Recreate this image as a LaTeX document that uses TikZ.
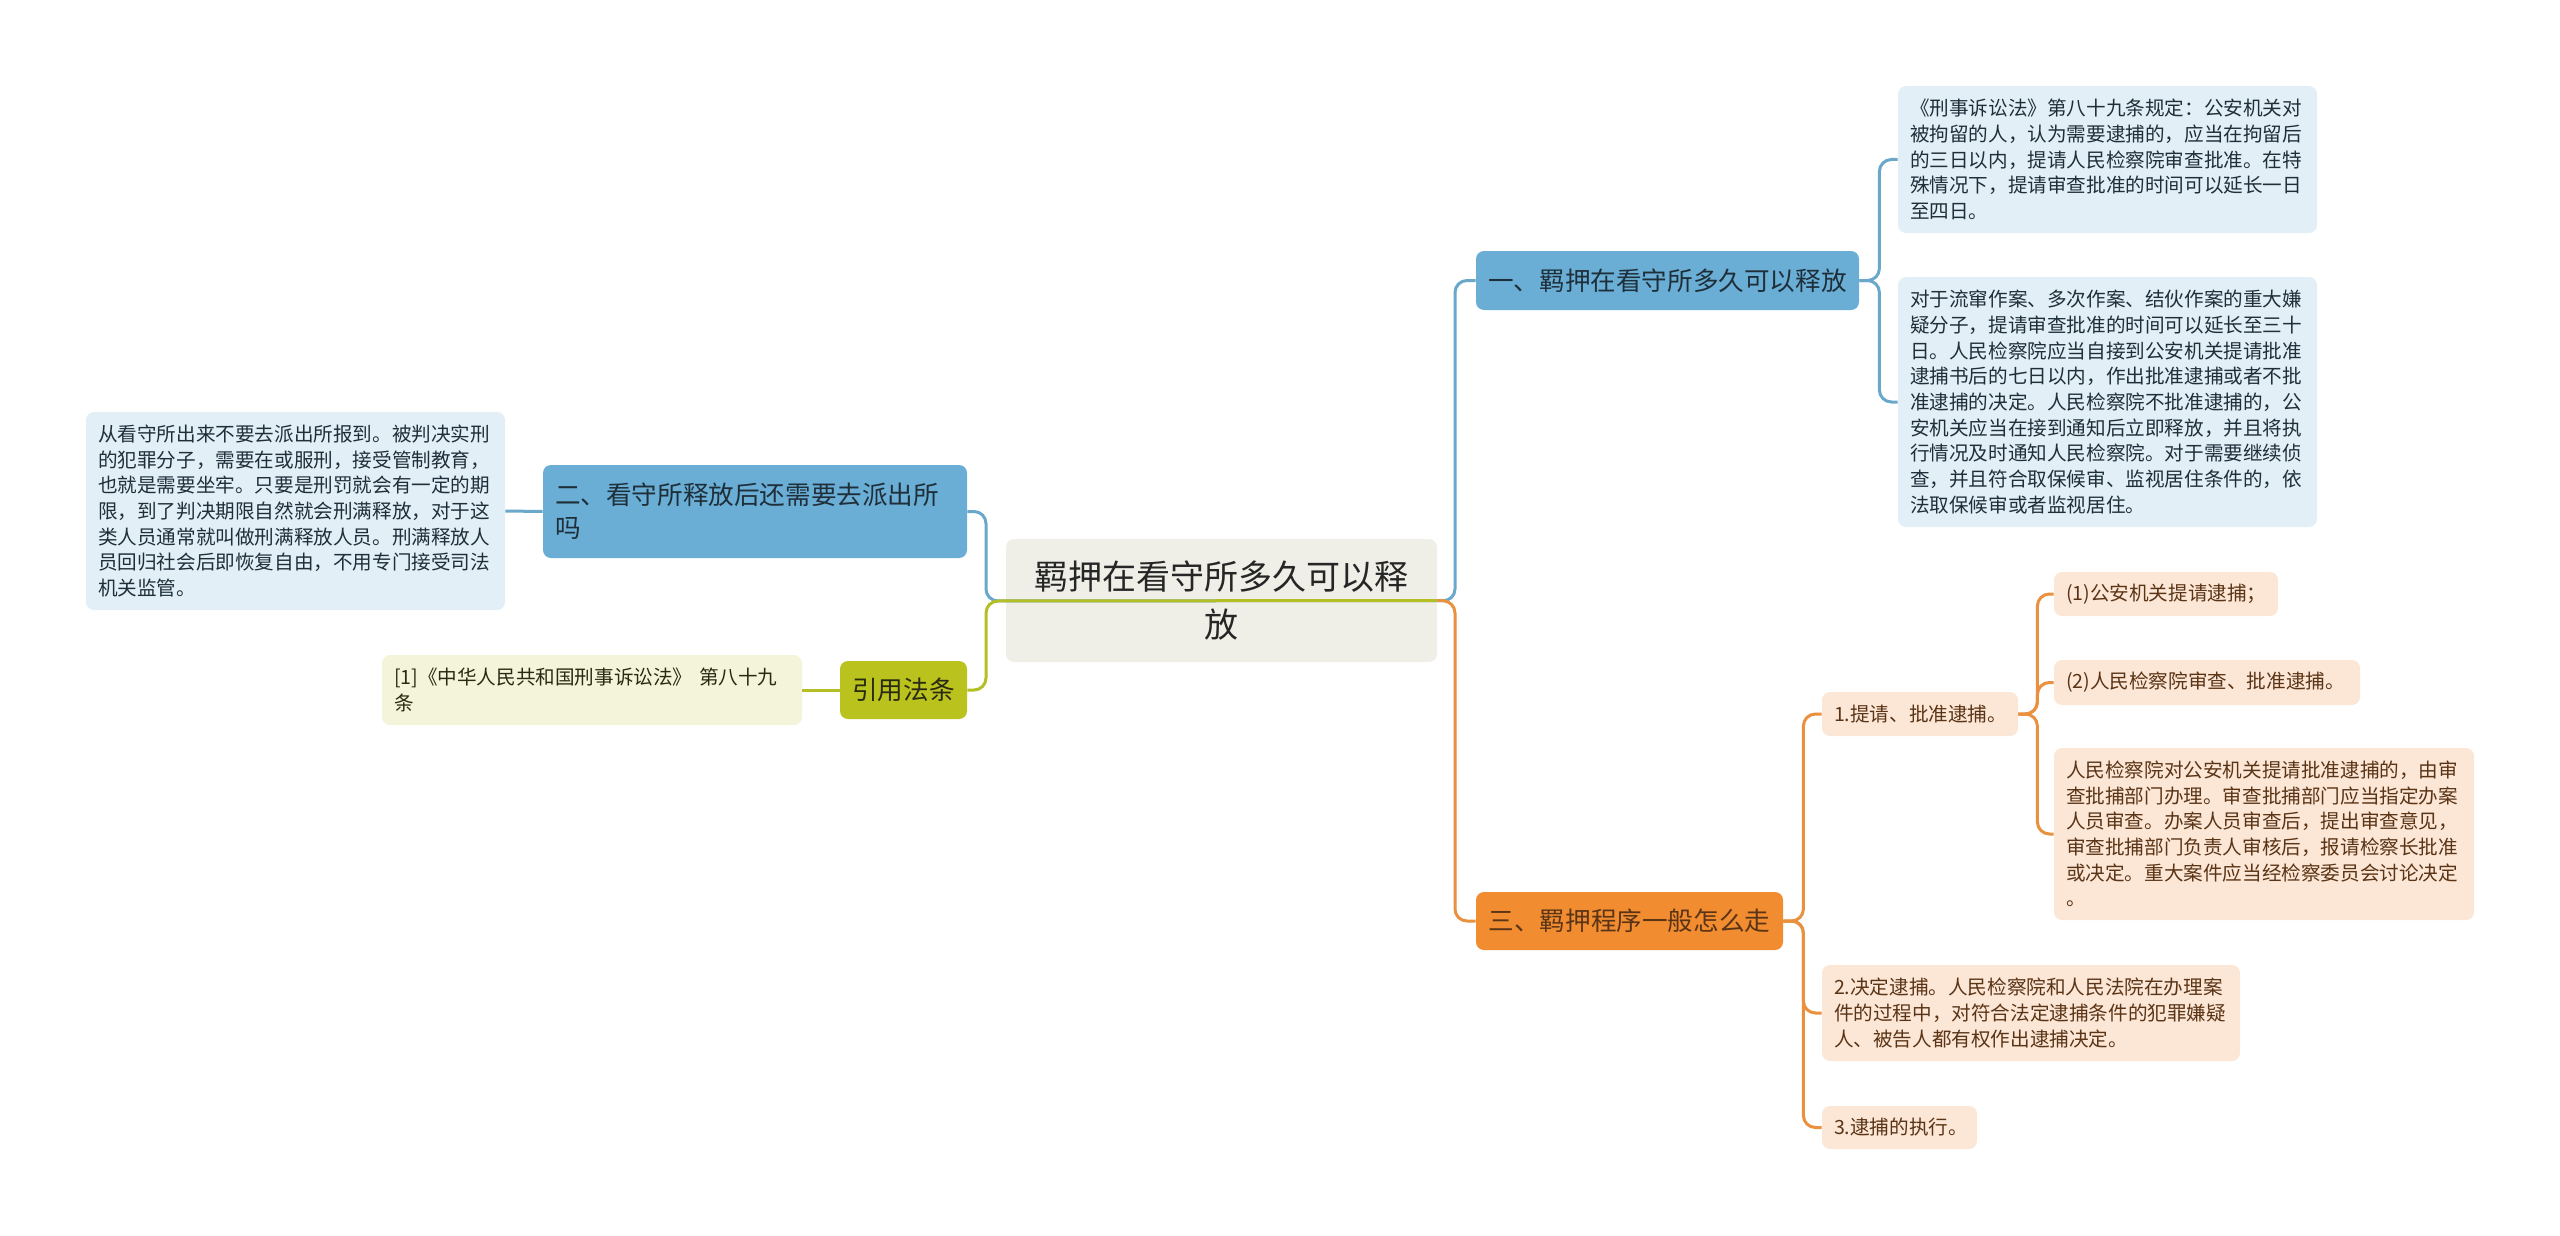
\documentclass[tikz,border=0pt]{standalone}
\usepackage{fontspec}
\setmainfont{Noto Sans CJK SC}
\definecolor{lnblue}{HTML}{6AA8CB}\definecolor{fblue}{HTML}{6AAED5}\definecolor{fbluel}{HTML}{E2EFF7}\definecolor{tblue}{HTML}{1F2F3A}
\definecolor{lngreen}{HTML}{B4BE25}\definecolor{fgreen}{HTML}{BAC21E}\definecolor{fgreenl}{HTML}{F3F4DA}\definecolor{tgreen}{HTML}{2A2A12}
\definecolor{lnorange}{HTML}{E9913F}\definecolor{forange}{HTML}{F28C30}\definecolor{forangel}{HTML}{FCE6D5}\definecolor{torange}{HTML}{5A3416}
\definecolor{fcenter}{HTML}{EFEFE7}\definecolor{tcenter}{HTML}{262626}
\tikzset{
  box/.style={rounded corners=4pt,inner sep=0pt},
  topic/.style={box,fill=fcenter,text=tcenter,align=center,font=\fontsize{17pt}{24pt}\selectfont},
  branch/.style={box,align=center,font=\fontsize{12.8pt}{16.5pt}\selectfont},
  leaf/.style={box,inner xsep=6pt,align=left,font=\fontsize{9.8pt}{12.85pt}\selectfont},
  bluebr/.style={branch,fill=fblue,text=tblue},bluelf/.style={leaf,fill=fbluel,text=tblue},
  greenbr/.style={branch,fill=fgreen,text=tgreen},greenlf/.style={leaf,fill=fgreenl,text=tgreen},
  orangebr/.style={branch,fill=forange,text=torange},orangelf/.style={leaf,fill=forangel,text=torange},
  link/.style={line width=1.5pt,rounded corners=6pt},
  bluelink/.style={link,draw=lnblue},greenlink/.style={link,draw=lngreen},orangelink/.style={link,draw=lnorange}
}
\begin{document}
\begin{tikzpicture}[x=0.5pt,y=-0.5pt]
\useasboundingbox(0,0)rectangle(2560,1236);
% topic and branches
\node[topic,minimum width=215.5pt,minimum height=61.5pt](ctr)at(1221.5,600.5){羁押在看守所多久可以释\\放};
\node[bluebr,minimum width=191.5pt,minimum height=29.5pt](b1)at(1667.5,280.5){一、羁押在看守所多久可以释放};
\node[bluebr,align=left,inner xsep=6pt,text width=200pt,minimum height=46.5pt](b2)at(755,511.5){二、看守所释放后还需要去派出所\\吗};
\node[greenbr,minimum width=63.5pt,minimum height=29pt](b3)at(903.5,690){引用法条};
\node[orangebr,minimum width=153.5pt,minimum height=29pt](b4)at(1629.5,921){三、羁押程序一般怎么走};
% leaves
\node[bluelf,text width=197.5pt,minimum height=73.5pt](la)at(2107.5,159.5){《刑事诉讼法》第八十九条规定：公安机关对\\被拘留的人，认为需要逮捕的，应当在拘留后\\的三日以内，提请人民检察院审查批准。在特\\殊情况下，提请审查批准的时间可以延长一日\\至四日。};
\node[bluelf,text width=197.5pt,minimum height=125pt](lb)at(2107.5,402){对于流窜作案、多次作案、结伙作案的重大嫌\\疑分子，提请审查批准的时间可以延长至三十\\日。人民检察院应当自接到公安机关提请批准\\逮捕书后的七日以内，作出批准逮捕或者不批\\准逮捕的决定。人民检察院不批准逮捕的，公\\安机关应当在接到通知后立即释放，并且将执\\行情况及时通知人民检察院。对于需要继续侦\\查，并且符合取保候审、监视居住条件的，依\\法取保候审或者监视居住。};
\node[bluelf,text width=197.5pt,minimum height=99pt](lc)at(295.5,511){从看守所出来不要去派出所报到。被判决实刑\\的犯罪分子，需要在或服刑，接受管制教育，\\也就是需要坐牢。只要是刑罚就会有一定的期\\限，到了判决期限自然就会刑满释放，对于这\\类人员通常就叫做刑满释放人员。刑满释放人\\员回归社会后即恢复自由，不用专门接受司法\\机关监管。};
\node[greenlf,text width=198pt,minimum height=35pt](cit)at(592,690){[1]《中华人民共和国刑事诉讼法》 第八十九\\条};
\node[orangelf,text width=86pt,minimum height=22pt](o1)at(1920,714){1.提请、批准逮捕。};
\node[orangelf,text width=100pt,minimum height=22pt](o1a)at(2166,594){(1)公安机关提请逮捕；};
\node[orangelf,text width=141pt,minimum height=22.5pt](o1b)at(2207,682.5){(2)人民检察院审查、批准逮捕。};
\node[orangelf,text width=198pt,minimum height=86pt](o1c)at(2264,834){人民检察院对公安机关提请批准逮捕的，由审\\查批捕部门办理。审查批捕部门应当指定办案\\人员审查。办案人员审查后，提出审查意见，\\审查批捕部门负责人审核后，报请检察长批准\\或决定。重大案件应当经检察委员会讨论决定\\。};
\node[orangelf,text width=197pt,minimum height=48pt](o2)at(2031,1013){2.决定逮捕。人民检察院和人民法院在办理案\\件的过程中，对符合法定逮捕条件的犯罪嫌疑\\人、被告人都有权作出逮捕决定。};
\node[orangelf,text width=65.5pt,minimum height=21.5pt](o3)at(1899.5,1127.5){3.逮捕的执行。};
% links
\coordinate(jl)at(986,601);\coordinate(jr)at(1455,601);
\draw[bluelink](ctr.east)--(jl)|-(b2.east);\draw[greenlink](ctr.east)--(jl)|-(b3.east);
\draw[bluelink](ctr.east)--(jr)|-(b1.west);\draw[orangelink](ctr.east)--(jr)|-(b4.west);
\draw[bluelink](b2.west)--(lc.east);\draw[greenlink](b3.west)--(cit.east);
\foreach \c in {la,lb}{\draw[bluelink](b1.east)--++(20,0)|-(\c.west);}
\foreach \c in {o1,o2,o3}{\draw[orangelink](b4.east)--++(20,0)|-(\c.west);}
\foreach \c in {o1a,o1b,o1c}{\draw[orangelink](o1.east)--++(19,0)|-(\c.west);}
\end{tikzpicture}
\end{document}
